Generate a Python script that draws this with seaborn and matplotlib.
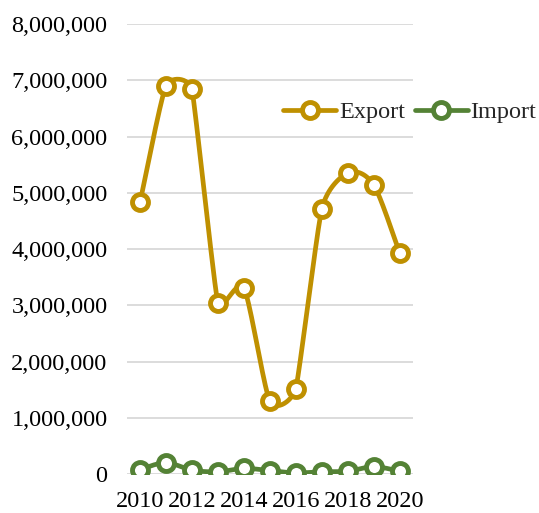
import numpy as np
import pandas as pd
import matplotlib
matplotlib.use("Agg")
import matplotlib.pyplot as plt
from matplotlib.ticker import FuncFormatter
import seaborn as sns

years = [2010, 2011, 2012, 2013, 2014, 2015, 2016, 2017, 2018, 2019, 2020]
export = [4830000, 6900000, 6840000, 3040000, 3310000, 1300000, 1520000, 4710000, 5350000, 5140000, 3930000]
imports = [80000, 200000, 70000, 40000, 100000, 60000, 20000, 40000, 50000, 130000, 50000]

EXPORT_C = '#BF9000'
IMPORT_C = '#548235'

# rough screen scale (px per year, px per unit) used to limit the curve handles
SX, SY = 26.0, 56.25e-6


def smooth(x, y, n=30, clamp=0.45):
    # excel-like smoothed line (bezier through the points, handles clamped)
    P = np.column_stack([np.asarray(x, float) * SX, np.asarray(y, float) * SY])
    m = len(P)
    tang = np.zeros_like(P)
    for i in range(m):
        a = P[max(i-1, 0)]; b = P[min(i+1, m-1)]
        tv = (b - a) / 6
        segs = []
        if i > 0: segs.append(np.linalg.norm(P[i] - P[i-1]))
        if i < m-1: segs.append(np.linalg.norm(P[i+1] - P[i]))
        lim = clamp * min(segs)
        L = np.linalg.norm(tv)
        if L > lim and L > 0:
            tv = tv * lim / L
        tang[i] = tv
    t = np.linspace(0, 1, n)[:, None]
    out = []
    for i in range(m-1):
        p0, p3 = P[i], P[i+1]
        p1, p2 = p0 + tang[i], p3 - tang[i+1]
        out.append((1-t)**3*p0 + 3*(1-t)**2*t*p1 + 3*(1-t)*t**2*p2 + t**3*p3)
    out = np.vstack(out)
    return out[:, 0] / SX, out[:, 1] / SY


sns.set_style('white')
plt.rcParams['font.family'] = ['Liberation Serif', 'DejaVu Serif']

fig = plt.figure(figsize=(5.39, 5.13), dpi=100)
ax = fig.add_axes([0.2356, 0.076, 0.530, 0.877])

for vals, col, name in [(export, EXPORT_C, 'Export'), (imports, IMPORT_C, 'Import')]:
    sx, sy = smooth(years, vals)
    sns.lineplot(x=sx, y=sy, ax=ax, color=col, lw=3.4, sort=False, zorder=2)
    ax.plot(years, vals, linestyle='none', marker='o', ms=11.5, mfc='white', mec=col, mew=3.5, zorder=3)
    ax.plot([], [], color=col, lw=3.4, marker='o', ms=11.5, mfc='white', mec=col, mew=3.5, label=name)

ax.set_xlim(2009.5, 2020.5)
ax.set_ylim(0, 8000000)
ax.set_yticks(np.arange(0, 8000001, 1000000))
ax.set_xticks(years[::2])
ax.yaxis.set_major_formatter(FuncFormatter(lambda v, p: f'{int(v):,}'))
ax.grid(axis='y', color='#D9D9D9', lw=1.3)
ax.set_axisbelow(True)
for s in ax.spines.values():
    s.set_visible(False)
ax.tick_params(axis='both', length=0, labelsize=17.5, labelcolor='black')
ax.tick_params(axis='y', pad=14)
ax.tick_params(axis='x', pad=12)
ax.set_xlabel('')
ax.set_ylabel('')
if ax.get_legend() is not None:
    ax.get_legend().remove()

h, l = ax.get_legend_handles_labels()
h, l = h[-2:], l[-2:]
fig.legend(h, l, ncol=2, loc='center left', bbox_to_anchor=(283/539, 1-112/513), frameon=False,
           fontsize=17.5, handlelength=2.2, handletextpad=0.1, columnspacing=0.4, borderpad=0, borderaxespad=0)

fig.savefig('out.png', dpi=100)
